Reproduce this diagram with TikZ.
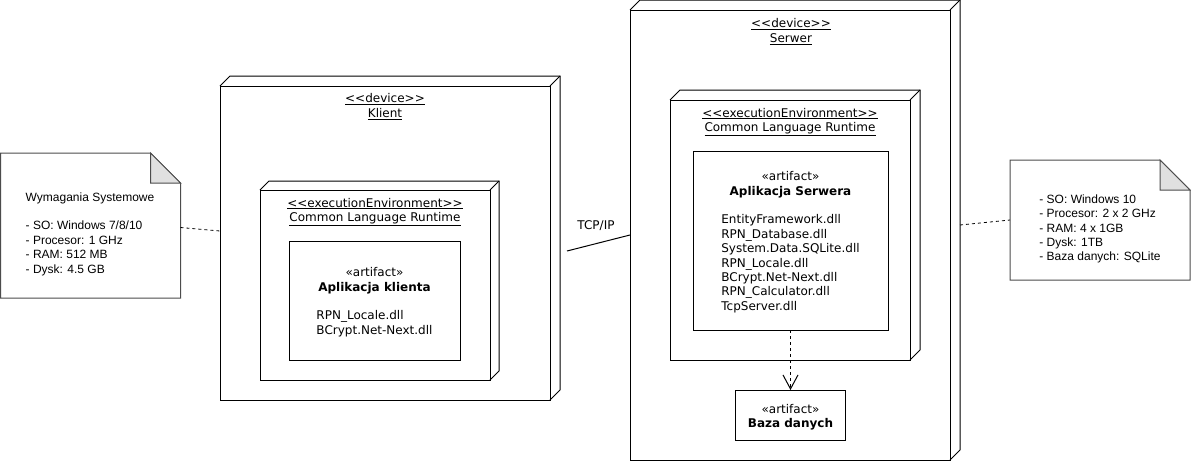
\documentclass[tikz,border=0pt]{standalone}
\usepackage{fontspec}
\newfontfamily\umlfont{DejaVu Sans}
\newfontfamily\notefont{Liberation Sans}
\usetikzlibrary{arrows.meta,calc}
\tikzset{
  face/.style={draw, line width=1pt, outer sep=0pt, inner sep=0pt, fill=white},
  umltext/.style={font=\umlfont\fontsize{12}{14.4}\selectfont, align=center, inner sep=0pt},
  notetext/.style={font=\notefont\fontsize{12}{14.4}\selectfont, align=left, inner sep=0pt},
  noteedge/.style={draw=black!70, line width=1pt},
  dep/.style={line width=1pt, dash pattern=on 3pt off 3pt},
}
\newcommand\depthedges[2]{%
  \draw[line width=1pt, line join=miter] (#1.north west) -- ++(#2,-#2) -- ([shift={(#2,-#2)}]#1.north east)
     -- ([shift={(#2,-#2)}]#1.south east) -- (#1.south east);
  \draw[line width=1pt] (#1.north east) -- ++(#2,-#2);}
\newcommand\notedraw[1]{%
  \draw[noteedge, fill=white] (#1.north west) -- ([xshift=-30pt]#1.north east) -- ([yshift=-30pt]#1.north east)
     -- (#1.south east) -- (#1.south west) -- cycle;
  \draw[noteedge, fill=black!12] ([xshift=-30pt]#1.north east) -- ([xshift=-30pt,yshift=-30pt]#1.north east)
     -- ([yshift=-30pt]#1.north east) -- cycle;}
\begin{document}
\begin{tikzpicture}[x=1pt, y=-1pt]
\useasboundingbox (0,0) rectangle (1191,461);

% ---- Klient ----
\node[face, minimum width=330pt, minimum height=314pt] (klient) at (385,243) {};
\depthedges{klient}{10}
\node[umltext] (klientlbl) at (385,106.5) {\underline{<<device>>}\\\underline{Klient}};

\node[face, minimum width=230pt, minimum height=190pt] (execK) at (375,285) {};
\depthedges{execK}{9}
\node[umltext] (execKlbl) at (375,212) {\underline{<<executionEnvironment>>}\\\underline{Common Language Runtime}};

\node[face, minimum width=171pt, minimum height=119pt] (artK) at (374.5,300.5) {};
\node[umltext] (artKlbl) at (374.5,303) {«artifact»\\\textbf{Aplikacja klienta}\\[14.4pt]%
  \begin{tabular}[t]{@{}l@{}}RPN\_Locale.dll\\BCrypt.Net-Next.dll\end{tabular}};

% ---- Serwer ----
\node[face, minimum width=320pt, minimum height=450pt] (serwer) at (790,235) {};
\depthedges{serwer}{10}
\node[umltext] (serwerlbl) at (791,31.5) {\underline{<<device>>}\\\underline{Serwer}};

\node[face, minimum width=240pt, minimum height=260pt] (execS) at (790,230) {};
\depthedges{execS}{10}
\node[umltext] (execSlbl) at (790,122) {\underline{<<executionEnvironment>>}\\\underline{Common Language Runtime}};

\node[face, minimum width=195pt, minimum height=179pt] (artS) at (790.5,240.5) {};
\node[umltext] (artSlbl) at (790.5,243) {«artifact»\\\textbf{Aplikacja Serwera}\\[14.4pt]%
  \begin{tabular}[t]{@{}l@{}}EntityFramework.dll\\RPN\_Database.dll\\System.Data.SQLite.dll\\RPN\_Locale.dll\\BCrypt.Net-Next.dll\\RPN\_Calculator.dll\\TcpServer.dll\end{tabular}};

\node[face, minimum width=110pt, minimum height=50pt] (baza) at (790.5,415) {};
\node[umltext] (bazalbl) at (790.5,417) {«artifact»\\\textbf{Baza danych}};

\draw[dep, -{Straight Barb[length=14pt, width=15pt, line width=1pt]}] (artS.south) -- (baza.north);

% ---- Notes ----
\node[minimum width=180pt, minimum height=145pt, inner sep=0pt, outer sep=0pt] (noteL) at (90.5,225.5) {};
\notedraw{noteL}
\node[notetext] (noteLtxt) at (90,234) {Wymagania Systemowe\\[14.4pt]- SO: Windows 7/8/10\\- Procesor: 1 GHz\\- RAM: 512 MB\\- Dysk: 4.5 GB};

\node[minimum width=180pt, minimum height=120pt, inner sep=0pt, outer sep=0pt] (noteR) at (1100,220) {};
\notedraw{noteR}
\node[notetext] (noteRtxt) at (1100,229) {- SO: Windows 10\\- Procesor: 2 x 2 GHz\\- RAM: 4 x 1GB\\- Dysk: 1TB\\- Baza danych: SQLite};

% ---- connectors ----
\draw[dep, line width=0.8pt] ([yshift=-2pt]noteL.east) -- ([yshift=12pt]klient.west);
\draw[dep, line width=0.8pt] ([xshift=10pt,yshift=10pt]serwer.east) -- (noteR.west);
\coordinate (tcpA) at (567,251);
\draw[line width=1pt] (tcpA) -- (serwer.west);
\node[umltext] (tcplbl) at (596,226) {TCP/IP};
\end{tikzpicture}
\end{document}
